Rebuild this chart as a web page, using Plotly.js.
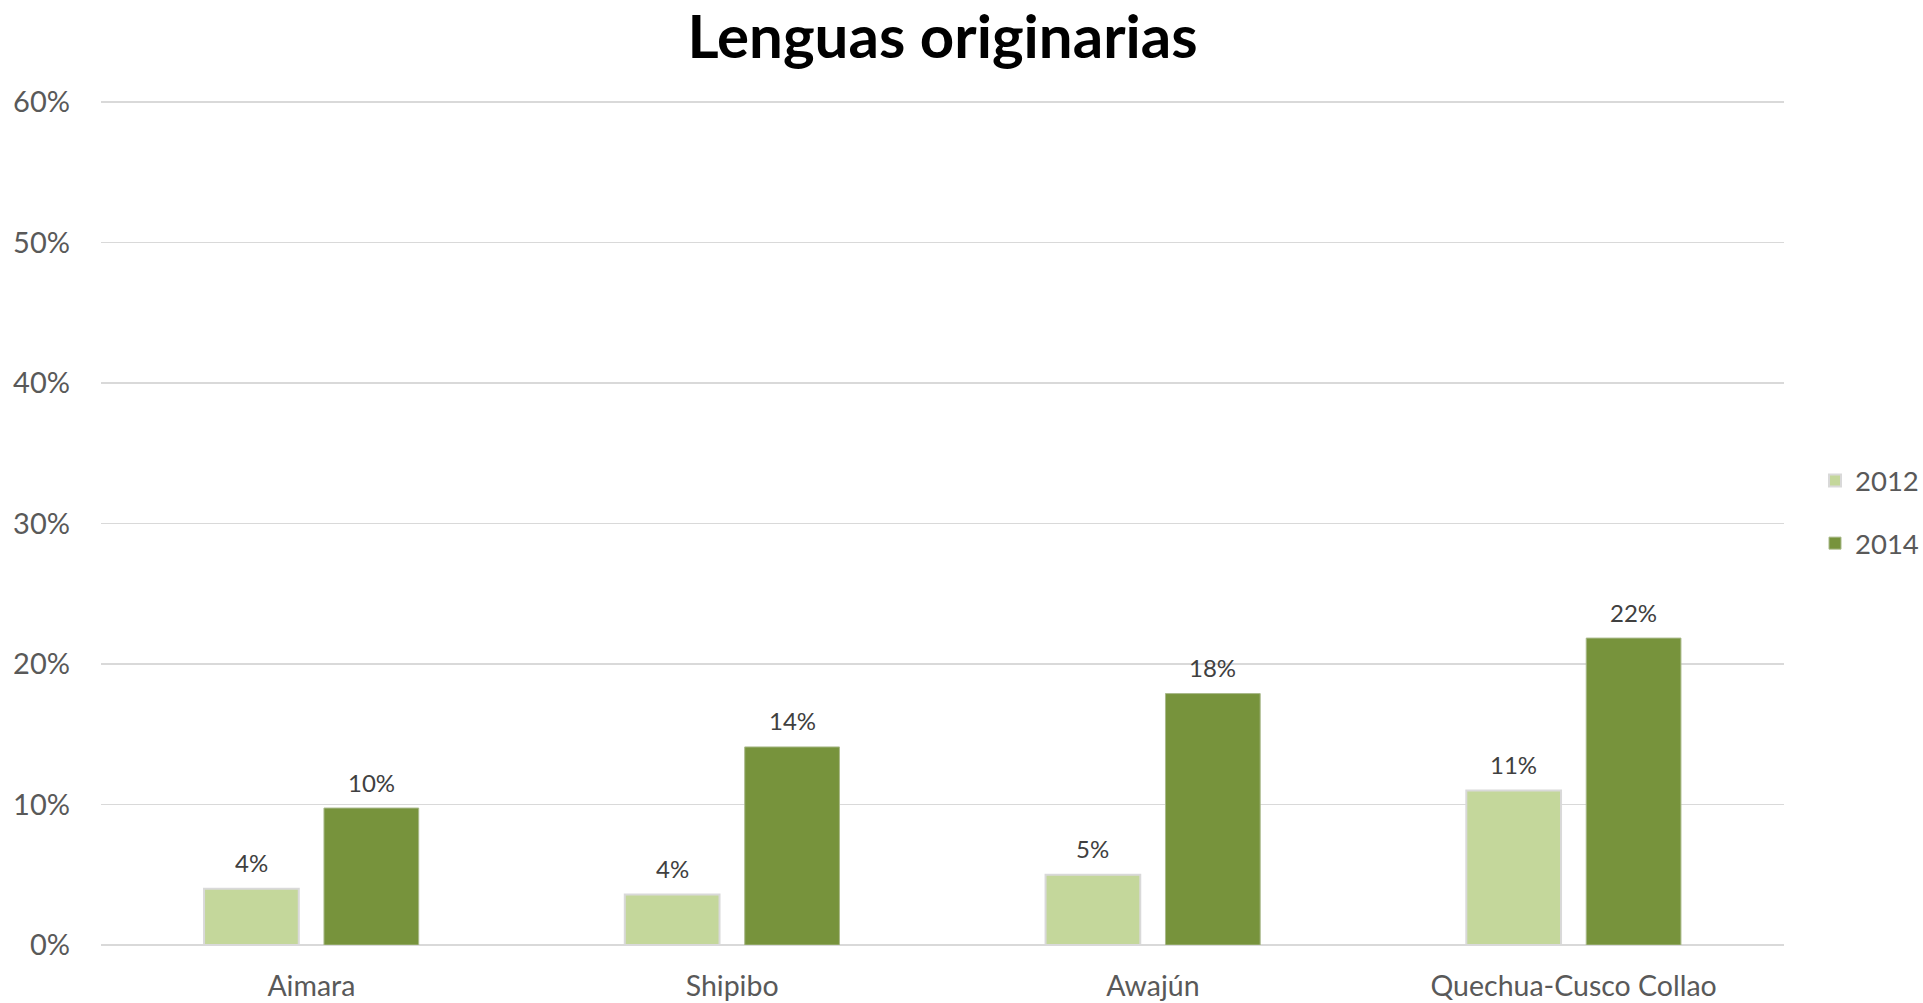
<!DOCTYPE html>
<html>
<head>
<meta charset="utf-8">
<script src="https://cdn.plot.ly/plotly-3.0.1.min.js"></script>
<style>html,body{margin:0;padding:0;background:#fff;}#chart{width:1923px;height:1003px;}</style>
</head>
<body>
<div id="chart"></div>
<script>
const categories = ["Aimara", "Shipibo", "Awajún", "Quechua-Cusco Collao"];
const seriesNames = ["2012", "2014"];
const values2012 = [0.040, 0.036, 0.050, 0.110];
const values2014 = [0.0975, 0.141, 0.179, 0.2185];
const yTickVals = [0, 0.1, 0.2, 0.3, 0.4, 0.5, 0.6];

const FONT = "Lato, 'Open Sans', sans-serif";
const W = 1923, H = 1003;
const margin = {l: 101, r: 139, t: 98, b: 58, pad: 0};
const bargap = 0.43;

const traces = [
  {type: "bar", name: seriesNames[0], x: categories, y: values2012, legendgroup: "a",
   marker: {color: "#C4D79B", line: {color: "#D9D9D9", width: 2}}, hoverinfo: "skip"},
  {type: "bar", name: seriesNames[1], x: categories, y: values2014, legendgroup: "b",
   marker: {color: "#77933C", line: {color: "#A9B98A", width: 1}}, hoverinfo: "skip"}
];

const catPx = (W - margin.l - margin.r) / categories.length;
const shift = (1 - bargap) / 4 * catPx;
const fmt = v => Math.round(v * 100) + "%";
const annotations = [];
categories.forEach((c, i) => {
  annotations.push({x: c, y: values2012[i], xref: "x", yref: "y", text: fmt(values2012[i]),
    showarrow: false, xshift: -shift, yshift: 26, yanchor: "middle",
    font: {family: FONT, size: 24, color: "#404040"}});
  annotations.push({x: c, y: values2014[i], xref: "x", yref: "y", text: fmt(values2014[i]),
    showarrow: false, xshift: shift, yshift: 26, yanchor: "middle",
    font: {family: FONT, size: 24, color: "#404040"}});
});

const layout = {
  width: W, height: H,
  margin: margin,
  paper_bgcolor: "#fff", plot_bgcolor: "#fff",
  title: {text: "<b>Lenguas originarias</b>", x: 0.5, xref: "paper", y: 1 - 37 / H, yref: "container",
    yanchor: "middle", font: {family: FONT, size: 60, color: "#000"}},
  barmode: "group", bargap: bargap, bargroupgap: 0.21,
  xaxis: {type: "category", showgrid: false, showline: false, ticks: "",
    ticklabelstandoff: 21, tickfont: {family: FONT, size: 28.5, color: "#595959"}},
  yaxis: {range: [0, 0.603], tickvals: yTickVals, tickformat: ".0%", showgrid: true,
    gridcolor: "#D9D9D9", gridwidth: 1.5, zeroline: true, zerolinecolor: "#D9D9D9", zerolinewidth: 2,
    showline: false, ticks: "", ticklabelstandoff: 30,
    tickfont: {family: FONT, size: 29, color: "#595959"}},
  legend: {x: 1815 / W, xref: "container", xanchor: "left", y: 1 - 512 / H, yref: "container",
    yanchor: "middle", traceorder: "grouped", tracegroupgap: 24,
    font: {family: FONT, size: 27.5, color: "#595959"}, bgcolor: "rgba(0,0,0,0)"},
  annotations: annotations,
  showlegend: true
};

Plotly.newPlot("chart", traces, layout, {displayModeBar: false, staticPlot: true});
</script>
</body>
</html>
